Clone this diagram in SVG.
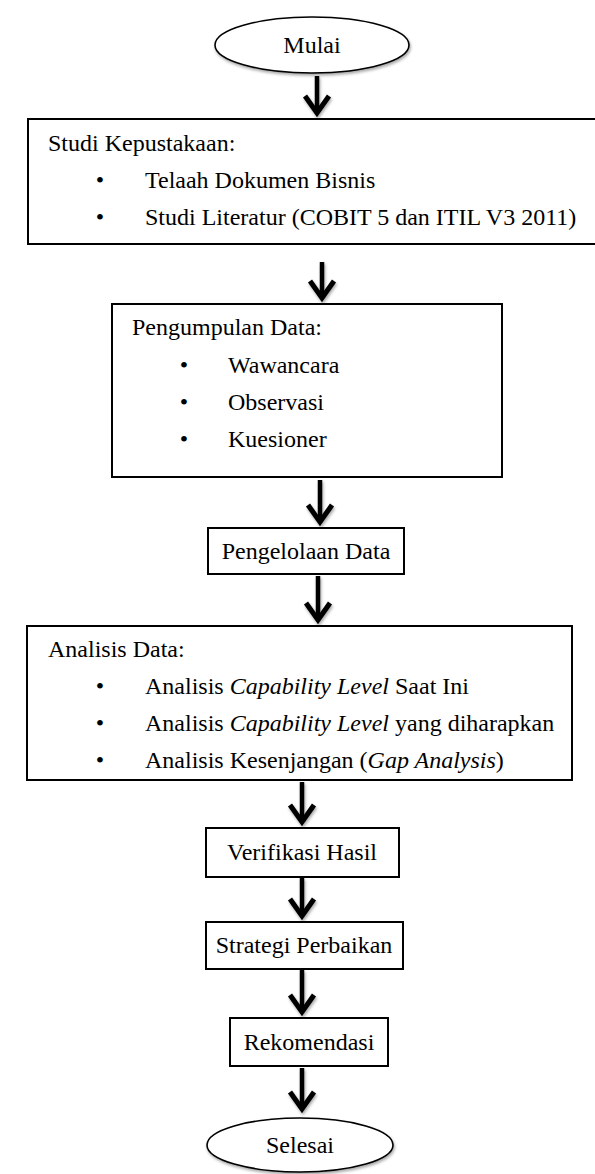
<svg xmlns="http://www.w3.org/2000/svg" width="595" height="1174" viewBox="0 0 595 1174">
<style>
  text { font-family: "Liberation Serif", "Times New Roman", serif; font-size: 24px; fill: #000; }
  .c { text-anchor: middle; }
  .i { font-style: italic; }
  .box { fill: #fff; stroke: #000; stroke-width: 2; }
  .term { fill: #fff; stroke: #000; stroke-width: 1.6; filter: url(#sh); }
  .arrow { stroke: #000; stroke-width: 4.5; fill: none; marker-end: url(#head); }
</style>
<defs>
  <filter id="sh" filterUnits="userSpaceOnUse" x="0" y="0" width="595" height="1174">
    <feDropShadow dx="1" dy="2" stdDeviation="1.5" flood-color="#000" flood-opacity="0.35"/>
  </filter>
  <marker id="head" markerUnits="userSpaceOnUse" viewBox="-24 -16 30 32" refX="0" refY="0" markerWidth="30" markerHeight="32" orient="auto" overflow="visible">
    <path d="M -17,-12 L 0,0 L -17,12" fill="none" stroke="#000" stroke-width="5" stroke-linejoin="miter"/>
  </marker>
</defs>

<g id="connectors" filter="url(#sh)">
  <line class="arrow" x1="317" y1="76" x2="317" y2="113"/>
  <line class="arrow" x1="322" y1="262" x2="322" y2="298"/>
  <line class="arrow" x1="320" y1="480" x2="320" y2="522"/>
  <line class="arrow" x1="318" y1="576" x2="318" y2="620"/>
  <line class="arrow" x1="302" y1="782" x2="302" y2="822"/>
  <line class="arrow" x1="302" y1="878" x2="302" y2="916"/>
  <line class="arrow" x1="302" y1="970" x2="302" y2="1012"/>
  <line class="arrow" x1="302" y1="1068" x2="302" y2="1109"/>
</g>

<g id="mulai">
  <ellipse class="term" cx="312" cy="45" rx="97" ry="28"/>
  <text class="c" x="312" y="53">Mulai</text>
</g>

<g id="studi-kepustakaan">
  <rect class="box" x="28" y="119" width="568" height="125"/>
  <text x="48" y="151">Studi Kepustakaan:</text>
  <text class="c" x="100" y="188">•</text>
  <text x="145" y="188">Telaah Dokumen Bisnis</text>
  <text class="c" x="100" y="225">•</text>
  <text x="145" y="225">Studi Literatur (COBIT 5 dan ITIL V3 2011)</text>
</g>

<g id="pengumpulan-data">
  <rect class="box" x="112" y="304" width="390" height="173"/>
  <text x="132" y="335">Pengumpulan Data:</text>
  <text class="c" x="184" y="373">•</text>
  <text x="228" y="373">Wawancara</text>
  <text class="c" x="184" y="410">•</text>
  <text x="228" y="410">Observasi</text>
  <text class="c" x="184" y="447">•</text>
  <text x="228" y="447">Kuesioner</text>
</g>

<g id="pengelolaan-data">
  <rect class="box" x="208" y="528" width="196" height="46"/>
  <text class="c" x="306" y="559">Pengelolaan Data</text>
</g>

<g id="analisis-data">
  <rect class="box" x="27" y="626" width="545" height="154"/>
  <text x="48" y="657">Analisis Data:</text>
  <text class="c" x="100" y="694">•</text>
  <text x="145" y="694">Analisis <tspan class="i">Capability Level</tspan> Saat Ini</text>
  <text class="c" x="100" y="731">•</text>
  <text x="145" y="731">Analisis <tspan class="i">Capability Level</tspan> yang diharapkan</text>
  <text class="c" x="100" y="768">•</text>
  <text x="145" y="768">Analisis Kesenjangan (<tspan class="i">Gap Analysis</tspan>)</text>
</g>

<g id="verifikasi-hasil">
  <rect class="box" x="206" y="828" width="193" height="49"/>
  <text class="c" x="302" y="860">Verifikasi Hasil</text>
</g>

<g id="strategi-perbaikan">
  <rect class="box" x="206" y="922" width="197" height="47"/>
  <text class="c" x="304" y="953">Strategi Perbaikan</text>
</g>

<g id="rekomendasi">
  <rect class="box" x="230" y="1018" width="158" height="48"/>
  <text class="c" x="309" y="1050">Rekomendasi</text>
</g>

<g id="selesai">
  <ellipse class="term" cx="300" cy="1145" rx="93" ry="27"/>
  <text class="c" x="300" y="1153">Selesai</text>
</g>
</svg>
